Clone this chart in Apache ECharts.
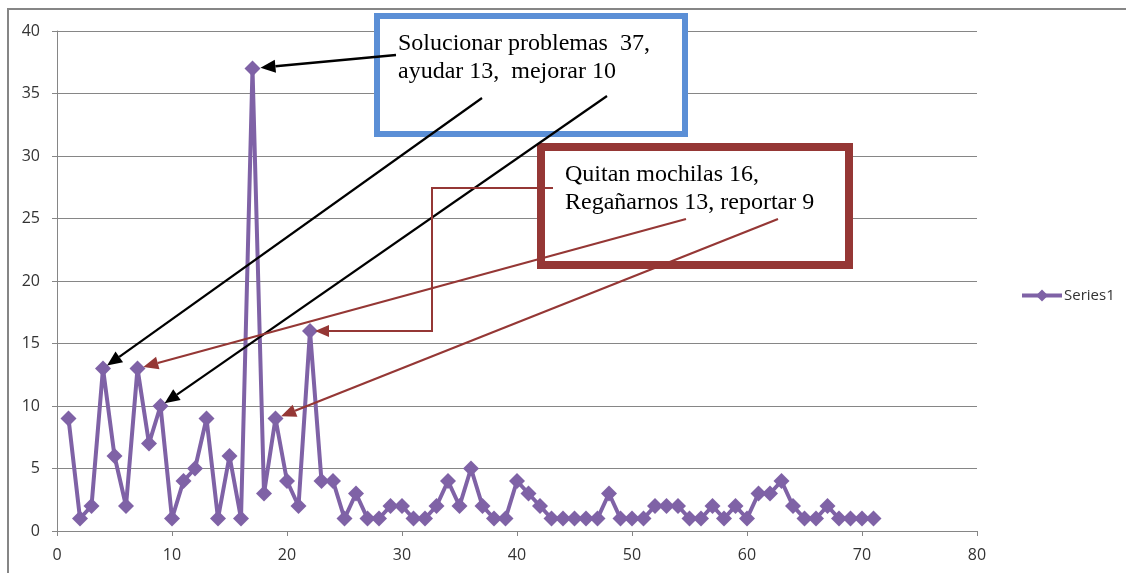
<!DOCTYPE html>
<html><head><meta charset="utf-8">
<script src="https://cdn.jsdelivr.net/npm/echarts@6/dist/echarts.min.js"></script>
<style>html,body{margin:0;padding:0;background:#fff}#c{width:1126px;height:573px}</style>
</head><body><div id="c"></div>
<script>
// ---- data ----
const xValues = [1,2,3,4,5,6,7,8,9,10,11,12,13,14,15,16,17,18,19,20,21,22,23,24,25,26,27,28,29,30,31,32,33,34,35,36,37,38,39,40,41,42,43,44,45,46,47,48,49,50,51,52,53,54,55,56,57,58,59,60,61,62,63,64,65,66,67,68,69,70,71];
const yValues = [9,1,2,13,6,2,13,7,10,1,4,5,9,1,6,1,37,3,9,4,2,16,4,4,1,3,1,1,2,2,1,1,2,4,2,5,2,1,1,4,3,2,1,1,1,1,1,3,1,1,1,2,2,2,1,1,2,1,2,1,3,3,4,2,1,1,2,1,1,1,1];
const seriesName = 'Series1';
const blueText = ['Solucionar problemas  37,', 'ayudar 13,  mejorar 10'];
const redText = ['Quitan mochilas 16,', 'Regañarnos 13, reportar 9'];
const blueTargets = [17, 4, 9];   // x of pointed points
const redTargets = [22, 7, 19];

const points = xValues.map((x, i) => [x, yValues[i]]);
const chart = echarts.init(document.getElementById('c'));
const axisFont = {fontFamily: 'Open Sans', fontSize: 16, color: '#333'};
const grey = '#868686';
chart.setOption({
  animation: false,
  grid: {left: 57, right: 149, top: 31, height: 500},
  legend: {
    data: [seriesName], left: 1015, top: 283, itemWidth: 40, itemHeight: 15, itemGap: 2,
    lineStyle: {width: 4},
    textStyle: {fontFamily: 'Open Sans', fontSize: 15, color: '#333', padding: [0, 0, 0, -3]}
  },
  xAxis: {
    type: 'value', min: 0, max: 80, interval: 10,
    axisLine: {lineStyle: {color: grey}}, axisTick: {show: true, length: 5, lineStyle: {color: grey}},
    splitLine: {show: false}, axisLabel: Object.assign({margin: 16}, axisFont)
  },
  yAxis: {
    type: 'value', min: 0, max: 40, interval: 5,
    axisLine: {show: true, lineStyle: {color: grey}}, axisTick: {show: true, length: 5, lineStyle: {color: grey}},
    splitLine: {lineStyle: {color: grey, width: 1}}, axisLabel: Object.assign({margin: 17}, axisFont)
  },
  series: [{
    name: seriesName, type: 'line', data: points,
    symbol: 'diamond', symbolSize: 16, showSymbol: true,
    lineStyle: {color: '#7F62A6', width: 4},
    itemStyle: {color: '#7F62A6'}
  }]
});

function px(x) { return chart.convertToPixel({gridIndex: 0}, [x, yValues[xValues.indexOf(x)]]); }
function arrow(from, target, color, w, gap) {
  const dx = target[0] - from[0], dy = target[1] - from[1];
  const L = Math.hypot(dx, dy), ux = dx / L, uy = dy / L;
  const tip = [target[0] - ux * gap, target[1] - uy * gap];
  const hl = 15, hw = 6.5;
  const base = [tip[0] - ux * hl, tip[1] - uy * hl];
  return [
    {type: 'line', shape: {x1: from[0], y1: from[1], x2: base[0], y2: base[1]}, style: {stroke: color, lineWidth: w}, z: 100},
    {type: 'polygon', shape: {points: [tip, [base[0] - uy * hw, base[1] + ux * hw], [base[0] + uy * hw, base[1] - ux * hw]]}, style: {fill: color}, z: 100}
  ];
}
const black = '#000', dred = '#953735';
let g = [];
g.push({type: 'rect', shape: {x: 8, y: 9, width: 1300, height: 800}, style: {fill: 'none', stroke: grey, lineWidth: 2}, z: 1, silent: true});
// blue box
g.push({type: 'rect', shape: {x: 377, y: 16, width: 308, height: 118}, style: {fill: '#fff', stroke: '#5B8FD6', lineWidth: 6}, z: 90});
blueText.forEach((t, i) => g.push({type: 'text', x: 398, y: 44 + i * 28, style: {text: t, font: '24px "Liberation Serif"', fill: '#000', verticalAlign: 'middle'}, z: 95}));
// red box
g.push({type: 'rect', shape: {x: 541, y: 147, width: 308, height: 118}, style: {fill: '#fff', stroke: dred, lineWidth: 8}, z: 90});
redText.forEach((t, i) => g.push({type: 'text', x: 565, y: 175 + i * 28, style: {text: t, font: '24px "Liberation Serif"', fill: '#000', verticalAlign: 'middle'}, z: 95}));
// black arrows
g = g.concat(arrow([396, 55], px(blueTargets[0]), black, 2.5, 8));
g = g.concat(arrow([482, 98], px(blueTargets[1]), black, 2.2, 5));
g = g.concat(arrow([607, 96], px(blueTargets[2]), black, 2.2, 5));
// red elbow arrow to 16
const p16 = px(redTargets[0]);
const tip16 = [p16[0] + 5, p16[1]];
g.push({type: 'polyline', shape: {points: [[553, 188], [432, 188], [432, p16[1]], [tip16[0] + 14, p16[1]]]}, style: {stroke: dred, lineWidth: 2, fill: 'none'}, z: 100});
g.push({type: 'polygon', shape: {points: [tip16, [tip16[0] + 14, p16[1] - 6], [tip16[0] + 14, p16[1] + 6]]}, style: {fill: dred}, z: 100});
g = g.concat(arrow([686, 219], px(redTargets[1]), dred, 2.2, 6));
g = g.concat(arrow([778, 219], px(redTargets[2]), dred, 2.2, 6));
chart.setOption({graphic: g});
</script></body></html>
